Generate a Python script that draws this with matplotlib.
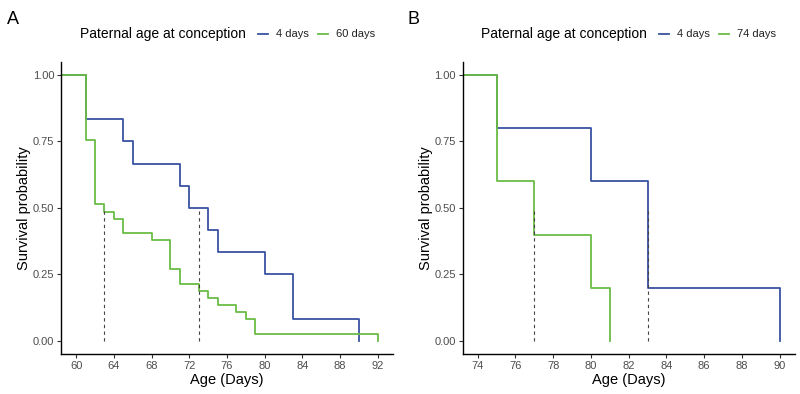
import matplotlib.pyplot as plt
from matplotlib.lines import Line2D

plt.rcParams['font.family'] = ['Liberation Sans', 'DejaVu Sans']

# panel A : Kaplan-Meier steps (time of event, survival after event)
a_time_4 = [0, 61, 65, 66, 71, 72, 74, 75, 80, 83, 90]
a_surv_4 = [1.0, 0.833, 0.75, 0.667, 0.583, 0.5, 0.417, 0.333, 0.25, 0.083, 0.0]
a_time_60 = [0, 61, 62, 63, 64, 65, 68, 70, 71, 73, 74, 75, 77, 78, 79, 92]
a_surv_60 = [1.0, 0.757, 0.514, 0.486, 0.459, 0.405, 0.378, 0.270, 0.216,
             0.189, 0.162, 0.135, 0.108, 0.081, 0.027, 0.0]
a_medians = [73, 63]

# panel B
b_time_4 = [0, 75, 80, 83, 90]
b_surv_4 = [1.0, 0.8, 0.6, 0.2, 0.0]
b_time_74 = [0, 75, 77, 80, 81]
b_surv_74 = [1.0, 0.6, 0.4, 0.2, 0.0]
b_medians = [77, 83]

colors = ['#3953A4', '#6ABD45']
legend_title = 'Paternal age at conception'

fig = plt.figure(figsize=(8.0, 3.94), dpi=100)


def setup(ax, xmin, xmax, xticks):
    pad = (xmax - xmin) * 0.05
    ax.set_xlim(xmin - pad, xmax + pad)
    ax.set_ylim(-0.05, 1.05)
    ax.set_xticks(xticks)
    ax.set_yticks([0, 0.25, 0.5, 0.75, 1.0])
    ax.set_yticklabels(['0.00', '0.25', '0.50', '0.75', '1.00'])
    for s in ['top', 'right']:
        ax.spines[s].set_visible(False)
    for s in ['left', 'bottom']:
        ax.spines[s].set_linewidth(1.0)
        ax.spines[s].set_color('black')
    ax.tick_params(direction='out', length=3, width=0.8, color='#333333',
                   labelsize=8, labelcolor='#4D4D4D', pad=2)
    ax.set_xlabel('Age (Days)', fontsize=10.5, labelpad=1)
    ax.set_ylabel('Survival probability', fontsize=10.5, labelpad=1)


def panel(ax, series, medians, labels, letter, letter_x, legend_x):
    for (t, s), c in zip(series, colors):
        ax.step(t, s, where='post', color=c, lw=1.3)
    ax.vlines(medians, 0, 0.5, colors='#444444', linestyles=(0, (3, 3)), lw=0.8)
    fig.text(letter_x, 0.95, letter, fontsize=13, va='center', ha='left')
    y = 0.913
    x = legend_x
    fig.text(x, y, legend_title, fontsize=10, va='center', ha='left')
    offs = [0.2225, 0.2975]
    for c, lab, o in zip(colors, labels, offs):
        fig.add_artist(Line2D([x + o, x + o + 0.013], [y, y], color=c, lw=1.3))
        fig.text(x + o + 0.0225, y, lab, fontsize=8, va='center', ha='left',
                 color='#222222')


axA = fig.add_axes([0.0763, 0.1008, 0.415, 0.7426])
setup(axA, 60, 92, [60, 64, 68, 72, 76, 80, 84, 88, 92])
panel(axA, [(a_time_4, a_surv_4), (a_time_60, a_surv_60)], a_medians,
      ['4 days', '60 days'], 'A', 0.009, 0.100)

axB = fig.add_axes([0.5783, 0.1008, 0.4152, 0.7426])
setup(axB, 74, 90, [74, 76, 78, 80, 82, 84, 86, 88, 90])
panel(axB, [(b_time_4, b_surv_4), (b_time_74, b_surv_74)], b_medians,
      ['4 days', '74 days'], 'B', 0.509, 0.601)

fig.savefig('out.png', dpi=100)
